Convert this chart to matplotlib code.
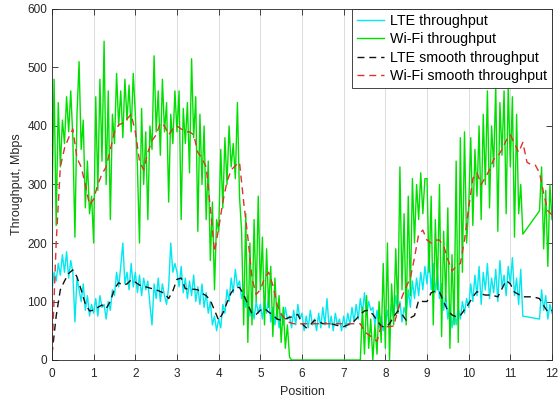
import numpy as np
import matplotlib
matplotlib.use("Agg")
import matplotlib.pyplot as plt

nan = np.nan

# raw series, step 0.05 (20 values per unit of position)
lte_raw = (
    [120, 150, 135, 165, 145, 180, 150, 185, 140, 170, 150, 65, 140, 120, 100, 130, 85, 110, 75, 95] +
    [80, 105, 75, 110, 90, 95, 70, 100, 85, 120, 110, 150, 125, 160, 200, 130, 150, 120, 165, 125] +
    [150, 115, 145, 110, 140, 120, 135, 95, 60, 130, 105, 140, 100, 130, 110, 95, 125, 200, 150, 165] +
    [150, 125, 160, 115, 140, 105, 135, 110, 145, 100, 125, 95, 130, 90, 115, 80, 100, 60, 75, 50] +
    [70, 55, 95, 80, 120, 100, 140, 115, 155, 125, 135, 105, 120, 90, 110, 75, 95, 70, 100, 80] +
    [95, 70, 100, 80, 110, 65, 90, 60, 85, 55, 80, 60, 90, 70, 75, 55, 85, 60, 95, 70] +
    [80, 50, 75, 55, 85, 60, 70, 50, 80, 55, 90, 60, 105, 55, 75, 50, 80, 60, 70, 50] +
    [75, 55, 80, 60, 90, 65, 95, 70, 105, 80, 115, 75, 100, 85, 90, 60, 85, 55, 75, 50] +
    [60, 85, 55, 95, 70, 110, 80, 100, 65, 90, 75, 120, 90, 135, 105, 140, 110, 150, 120, 160] +
    [130, 175, 120, 165, 115, 150, 105, 130, 85, 110, 70, 95, 55, 85, 60, 90, 70, 100, 80, 105] +
    [90, 130, 100, 145, 110, 160, 95, 150, 120, 165, 105, 140, 115, 155, 100, 170, 125, 145, 110, 160] +
    [130, 175, 110, 140, 95, 155, 75, nan, nan, nan, nan, nan, nan, nan, 70, 120, 85, 110, 70, 95] +
    [80]
)

wifi_raw = (
    [260, 480, 230, 440, 330, 410, 370, 450, 390, 460, 380, 210, 420, 510, 360, 410, 260, 340, 250, 280] +
    [200, 450, 290, 480, 340, 545, 300, 460, 240, 420, 370, 490, 400, 460, 380, 480, 410, 470, 390, 490] +
    [420, 330, 200, 430, 300, 390, 240, 400, 360, 520, 390, 460, 350, 480, 390, 440, 270, 420, 370, 460] +
    [390, 460, 240, 430, 370, 440, 320, 515, 380, 450, 220, 420, 300, 400, 240, 340, 170, 270, 120, 240] +
    [220, 360, 260, 380, 300, 400, 330, 370, 310, 440, 280, 220, 60, 250, 30, 200, 60, 240, 100, 280] +
    [120, 210, 60, 190, 90, 160, 40, 140, 70, 110, 30, 90, 20, 60, 5, 0, 0, 0, 0, 0] +
    [0, 0, 0, 0, 0, 0, 0, 0, 0, 0, 0, 0, 0, 0, 0, 0, 0, 0, 0, 0] +
    [0, 0, 0, 0, 0, 0, 0, 0, 0, 90, 10, 110, 20, 70, 0, 60, 10, 100, 30, 165] +
    [20, 200, 0, 130, 60, 190, 80, 330, 120, 250, 60, 280, 110, 310, 200, 300, 240, 320, 250, 310] +
    [310, 150, 280, 60, 240, 120, 300, 40, 220, 100, 260, 20, 180, 60, 340, 30, 380, 150, 390, 200] +
    [260, 380, 230, 360, 280, 400, 240, 420, 300, 460, 260, 400, 330, 470, 220, 440, 350, 460, 250, 470] +
    [330, 450, 210, 420, 250, 300, 215, nan, nan, nan, nan, nan, nan, nan, 255, 330, 190, 290, 160, 300] +
    [240]
)

# smoothed series, step 0.1 (10 values per unit of position)
lte_smooth = (
    [10, 75, 120, 135, 148, 154, 142, 120, 96, 84] +
    [85, 90, 94, 88, 100, 122, 132, 128, 130, 137] +
    [133, 128, 126, 124, 122, 120, 117, 114, 105, 118] +
    [138, 140, 122, 121, 121, 120, 114, 110, 102, 85] +
    [68, 80, 98, 115, 124, 124, 112, 95, 79, 78] +
    [85, 88, 82, 77, 70, 68, 70, 73, 74, 78] +
    [62, 55, 60, 68, 66, 62, 63, 62, 60, 58] +
    [57, 60, 63, 70, 78, 84, 85, 78, 68, 58] +
    [56, 62, 74, 84, 78, 68, 72, 76, 102, 100] +
    [100, 115, 118, 116, 100, 84, 77, 74, 76, 86] +
    [96, 108, 117, 113, 111, 111, 110, 108, 122, 136] +
    [130, 116, 112, 108, 108, 108, 107, 105, 93, 82] +
    [85]
)

wifi_smooth = (
    [10, 200, 330, 362, 380, 395, 345, 330, 300, 265] +
    [275, 300, 318, 330, 360, 390, 402, 405, 412, 420] +
    [390, 340, 325, 355, 375, 385, 405, 400, 385, 395] +
    [400, 395, 390, 390, 385, 355, 345, 330, 260, 185] +
    [225, 270, 305, 325, 332, 338, 270, 210, 140, 112] +
    [120, 140, 150, 128, 95, 78, 70, 64, 62, 62] +
    [62, 62, 62, 62, 62, 62, 62, 62, 62, 62] +
    [62, 62, 62, 62, 62, 48, 43, 38, 32, 58] +
    [57, 57, 58, 85, 108, 125, 140, 175, 215, 222] +
    [205, 200, 205, 205, 195, 172, 152, 160, 165, 205] +
    [260, 310, 320, 300, 312, 325, 343, 348, 360, 375] +
    [385, 370, 355, 372, 338, 334, 333, 320, 285, 255] +
    [248]
)

x_raw = np.arange(len(lte_raw)) * 0.05
x_smooth = np.arange(len(lte_smooth)) * 0.1


def valid(x, y):
    y = np.asarray(y, dtype=float)
    m = ~np.isnan(y)
    return np.asarray(x)[m], y[m]


plt.rcParams['font.family'] = ['Liberation Sans', 'DejaVu Sans']
txt = '#262626'

fig = plt.figure(figsize=(5.58, 4.03), dpi=100)
ax = fig.add_axes([52 / 558, 43 / 403, 500 / 558, 351 / 403])

ax.plot(*valid(x_raw, lte_raw), color='#00E8F0', lw=1.0, label='LTE throughput')
ax.plot(*valid(x_raw, wifi_raw), color='#00E000', lw=1.0, label='Wi-Fi throughput')
ax.plot(x_smooth, lte_smooth, color='#111111', lw=1.0, dashes=(5, 3.5),
        label='LTE smooth throughput')
ax.plot(x_smooth, wifi_smooth, color='#E03030', lw=1.0, dashes=(5, 3.5),
        label='Wi-Fi smooth throughput')

ax.set_xlim(0, 12)
ax.set_ylim(0, 600)
ax.set_xticks(range(0, 13))
ax.set_yticks(range(0, 601, 100))
ax.grid(axis='x', color='#DCDCDC', lw=0.7)
ax.set_axisbelow(True)
ax.tick_params(direction='in', top=True, right=True, length=4, width=0.6,
               colors=txt, labelsize=8.5, labelcolor=txt)
ax.tick_params(axis='x', pad=6)
for s in ax.spines.values():
    s.set_color(txt)
    s.set_linewidth(0.6)

ax.set_xlabel('Position', fontsize=9, color=txt, labelpad=4)
ax.set_ylabel('Throughput, Mbps', fontsize=9, color=txt, labelpad=3)

leg = ax.legend(loc='upper right', fontsize=10.3, frameon=True, fancybox=False,
                framealpha=1, edgecolor=txt, borderaxespad=0,
                handlelength=1.9, handletextpad=0.4, labelspacing=0.3,
                borderpad=0.35)
leg.get_frame().set_linewidth(0.6)

fig.savefig('out.png', dpi=100)
